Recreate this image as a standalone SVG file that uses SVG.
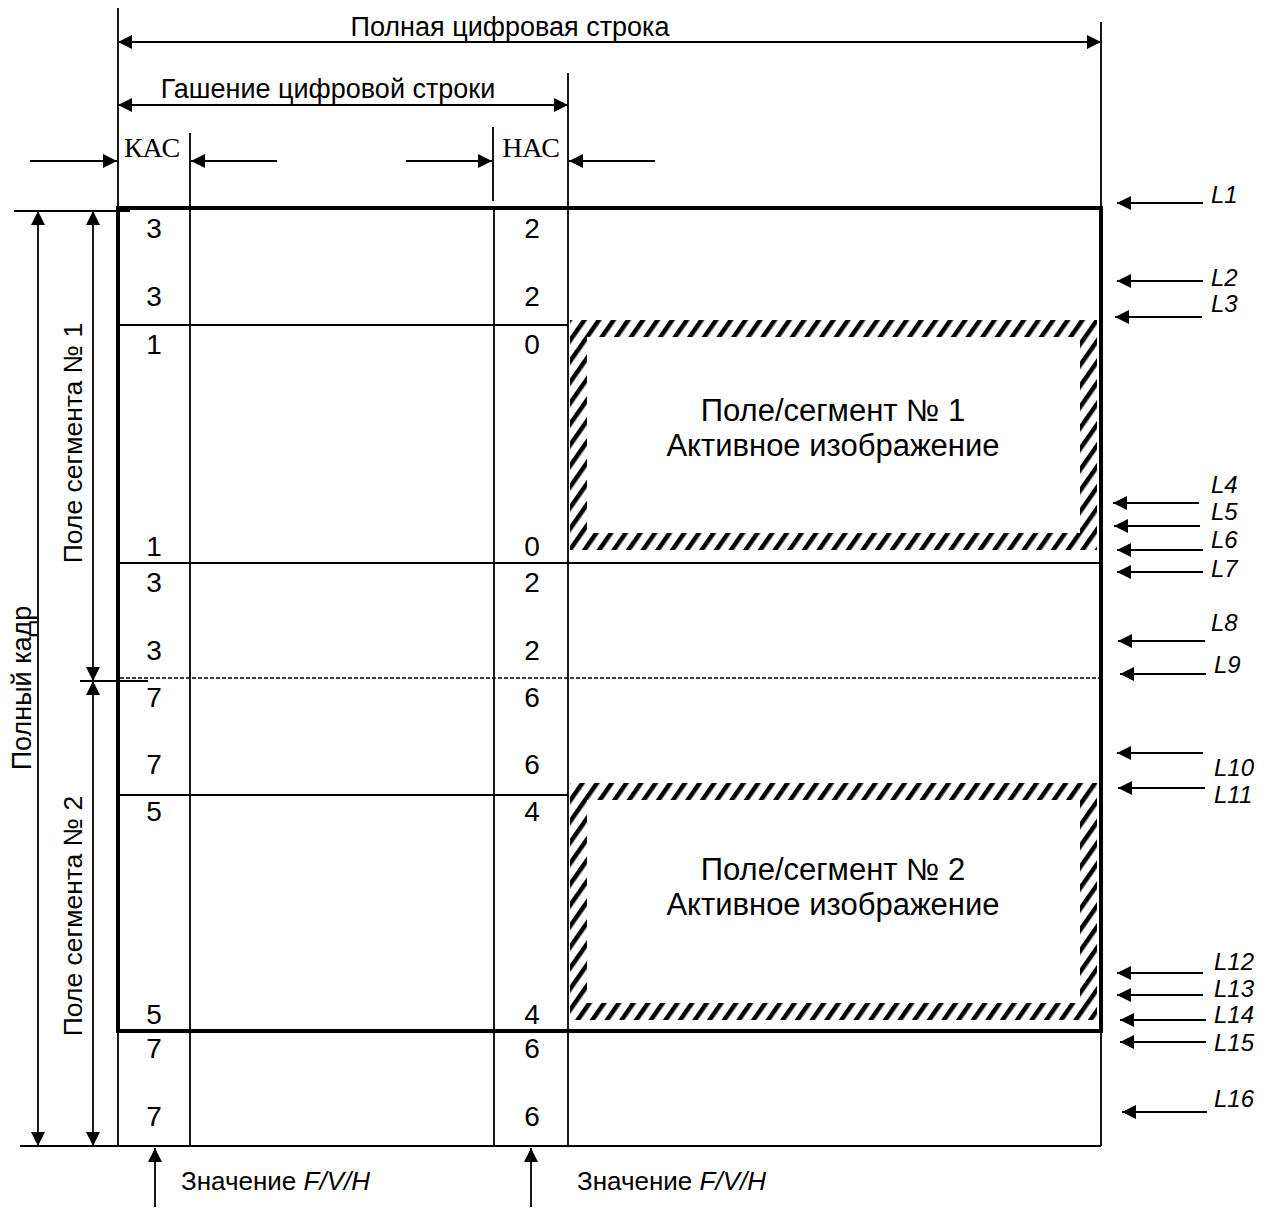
<svg xmlns="http://www.w3.org/2000/svg" width="1271" height="1209" viewBox="0 0 1271 1209">
<defs>
<style>
.t{font-family:"Liberation Sans",Arial,sans-serif;fill:#000}
.s{font-family:"Liberation Serif","Times New Roman",serif;fill:#000;font-size:28px;text-anchor:middle}
.d{font-size:28px;text-anchor:middle}
.lab{font-size:24px;font-style:italic}
.c{font-size:31px;text-anchor:middle}
.ln{stroke:#000;stroke-width:1.8;fill:none}
.ar{stroke:#000;stroke-width:1.8;fill:none;marker-end:url(#ah)}
.ar2{stroke:#000;stroke-width:1.8;fill:none;marker-start:url(#ah);marker-end:url(#ah)}
.thick{stroke:#000;stroke-width:4;fill:none}
.dash{stroke:#000;stroke-width:1.5;fill:none;stroke-dasharray:4 2}
.hatch{fill:url(#hatch);fill-rule:evenodd}
</style>
<marker id="ah" viewBox="0 0 14 14" refX="14" refY="7" markerWidth="14" markerHeight="14" markerUnits="userSpaceOnUse" orient="auto-start-reverse"><path d="M0,0 L14,7 L0,14 z" fill="#000"/></marker>
<pattern id="hatch" width="12" height="12" patternUnits="userSpaceOnUse" patternTransform="rotate(35)"><rect width="4.5" height="12" fill="#000"/></pattern>
</defs>
<rect width="1271" height="1209" fill="#fff"/>

<g id="grid">
<path class="ln" d="M118,8 V1146 M1101,22 V1146 M568,73 V1146 M190,133 V1146 M493,127 V201 M494,208 V1146"/>
<path class="ln" d="M118,325 H568 M118,563 H1101 M118,795 H568 M118,1031 H1101 M20,1146 H1101 M14,211 H130 M80,681 H148"/>
<path class="dash" d="M120,678 H1099"/>
<rect class="thick" x="118" y="208" width="983" height="823"/>
</g>

<g id="active1">
<path class="hatch" d="M570,320 H1097 V550 H570 Z M587,337 V533 H1080 V337 Z"/>
<text class="t c" x="833" y="421">Поле/сегмент № 1</text>
<text class="t c" x="833" y="456">Активное изображение</text>
</g>

<g id="active2">
<path class="hatch" d="M570,783 H1097 V1020 H570 Z M587,800 V1003 H1080 V800 Z"/>
<text class="t c" x="833" y="880">Поле/сегмент № 2</text>
<text class="t c" x="833" y="915">Активное изображение</text>
</g>

<g id="values-kas">
<text class="t d" x="154" y="238">3</text>
<text class="t d" x="154" y="306">3</text>
<text class="t d" x="154" y="354">1</text>
<text class="t d" x="154" y="556">1</text>
<text class="t d" x="154" y="592">3</text>
<text class="t d" x="154" y="660">3</text>
<text class="t d" x="154" y="707">7</text>
<text class="t d" x="154" y="774">7</text>
<text class="t d" x="154" y="821">5</text>
<text class="t d" x="154" y="1024">5</text>
<text class="t d" x="154" y="1058">7</text>
<text class="t d" x="154" y="1126">7</text>
</g>

<g id="values-nas">
<text class="t d" x="532" y="238">2</text>
<text class="t d" x="532" y="306">2</text>
<text class="t d" x="532" y="354">0</text>
<text class="t d" x="532" y="556">0</text>
<text class="t d" x="532" y="592">2</text>
<text class="t d" x="532" y="660">2</text>
<text class="t d" x="532" y="707">6</text>
<text class="t d" x="532" y="774">6</text>
<text class="t d" x="532" y="821">4</text>
<text class="t d" x="532" y="1024">4</text>
<text class="t d" x="532" y="1058">6</text>
<text class="t d" x="532" y="1126">6</text>
</g>

<g id="header">
<text class="t" x="510" y="36" font-size="27" text-anchor="middle">Полная цифровая строка</text>
<text class="t" x="328" y="98" font-size="27" text-anchor="middle">Гашение цифровой строки</text>
<text class="s" x="152" y="157">КАС</text>
<text class="s" x="531" y="157">НАС</text>
</g>

<g id="side-labels">
<text class="t" transform="translate(31,688) rotate(-90)" font-size="27" text-anchor="middle">Полный кадр</text>
<text class="t" transform="translate(82,443) rotate(-90)" font-size="26.5" text-anchor="middle">Поле сегмента № 1</text>
<text class="t" transform="translate(82,916) rotate(-90)" font-size="26.5" text-anchor="middle">Поле сегмента № 2</text>
</g>

<g id="bottom-labels">
<text class="t" x="181" y="1190" font-size="26">Значение <tspan font-style="italic">F/V/H</tspan></text>
<text class="t" x="577" y="1190" font-size="26">Значение <tspan font-style="italic">F/V/H</tspan></text>
</g>

<g id="line-labels" class="t lab">
<text x="1211" y="203">L1</text>
<text x="1211" y="286">L2</text>
<text x="1211" y="312">L3</text>
<text x="1211" y="493">L4</text>
<text x="1211" y="520">L5</text>
<text x="1211" y="548">L6</text>
<text x="1211" y="577">L7</text>
<text x="1211" y="631">L8</text>
<text x="1214" y="673">L9</text>
<text x="1214" y="776">L10</text>
<text x="1214" y="803">L11</text>
<text x="1214" y="970">L12</text>
<text x="1214" y="997">L13</text>
<text x="1214" y="1023">L14</text>
<text x="1214" y="1051">L15</text>
<text x="1214" y="1107">L16</text>
</g>

<g id="connectors">
<path class="ar2" d="M118,42 H1101"/>
<path class="ar2" d="M118,105 H568"/>
<path class="ar" d="M30,161 H117"/>
<path class="ar" d="M277,161 H191"/>
<path class="ar" d="M406,161 H492"/>
<path class="ar" d="M655,161 H569"/>
<path class="ar2" d="M38,211 V1146"/>
<path class="ar2" d="M93,211 V681"/>
<path class="ar2" d="M93,681 V1146"/>
<path class="ar" d="M155,1207 V1148"/>
<path class="ar" d="M531,1207 V1148"/>
<path class="ar" d="M1203,203 H1117"/>
<path class="ar" d="M1203,281 H1117"/>
<path class="ar" d="M1202,317 H1115"/>
<path class="ar" d="M1199,503 H1113"/>
<path class="ar" d="M1200,526 H1114"/>
<path class="ar" d="M1203,550 H1117"/>
<path class="ar" d="M1203,572 H1117"/>
<path class="ar" d="M1205,641 H1118"/>
<path class="ar" d="M1206,674 H1120"/>
<path class="ar" d="M1203,753 H1117"/>
<path class="ar" d="M1205,788 H1118"/>
<path class="ar" d="M1203,973 H1117"/>
<path class="ar" d="M1203,995 H1117"/>
<path class="ar" d="M1206,1020 H1120"/>
<path class="ar" d="M1206,1042 H1120"/>
<path class="ar" d="M1207,1112 H1122"/>
</g>
</svg>
